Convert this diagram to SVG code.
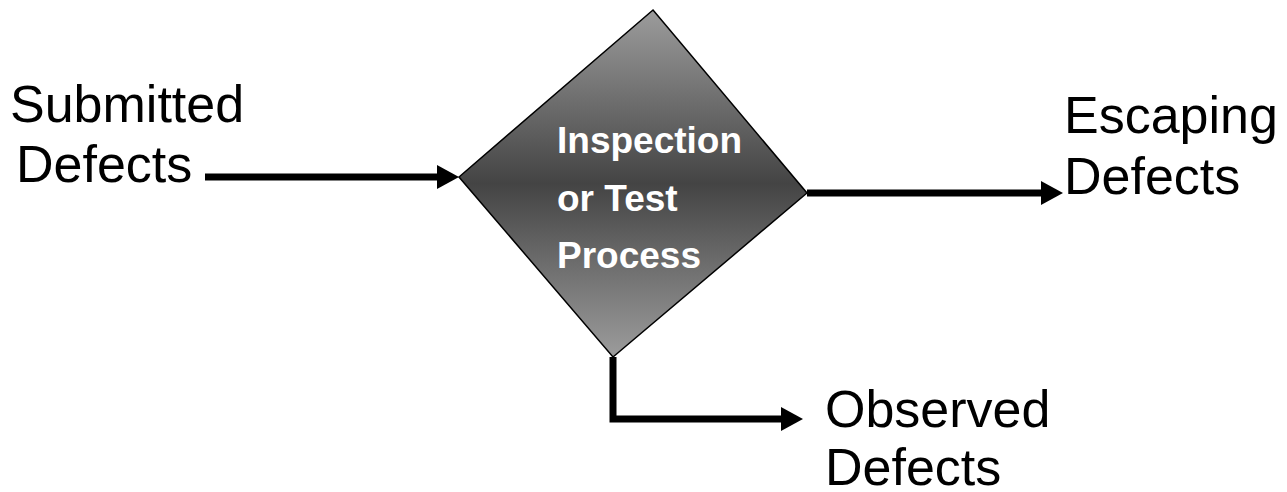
<svg xmlns="http://www.w3.org/2000/svg" width="1287" height="492" viewBox="0 0 1287 492">
  <style>
    .lbl { font-family: "Liberation Sans", Arial, sans-serif; font-size: 52px; fill: #000; }
    .inner { font-family: "Liberation Sans", Arial, sans-serif; font-size: 37px; font-weight: bold; fill: #fff; }
    .conn { fill: none; stroke: #000; stroke-width: 7; stroke-linejoin: miter; }
  </style>
  <defs>
    <linearGradient id="gr" gradientUnits="userSpaceOnUse" x1="0" y1="10" x2="0" y2="357">
      <stop offset="0" stop-color="#9c9c9c"/>
      <stop offset="0.5" stop-color="#444444"/>
      <stop offset="1" stop-color="#9c9c9c"/>
    </linearGradient>
    <marker id="ah" markerUnits="userSpaceOnUse" viewBox="0 0 22 24" markerWidth="22" markerHeight="24" refX="0" refY="12" orient="auto">
      <path d="M0,0 L22,12 L0,24 z" fill="#000"/>
    </marker>
  </defs>
  <rect width="1287" height="492" fill="#fff"/>
  <g id="connectors">
    <path class="conn" d="M205,177 H437" marker-end="url(#ah)"/>
    <path class="conn" d="M807,193 H1041" marker-end="url(#ah)"/>
    <path class="conn" d="M613,357 V419 H781" marker-end="url(#ah)"/>
  </g>
  <g id="process">
    <polygon points="653,10 807,193 613,357 459,177" fill="url(#gr)" stroke="#000" stroke-width="1.5"/>
    <text class="inner" x="557" y="153">Inspection</text>
    <text class="inner" x="557" y="211">or Test</text>
    <text class="inner" x="557" y="268">Process</text>
  </g>
  <g id="submitted">
    <text class="lbl" x="10" y="122">Submitted</text>
    <text class="lbl" x="16" y="182">Defects</text>
  </g>
  <g id="escaping">
    <text class="lbl" x="1064" y="133">Escaping</text>
    <text class="lbl" x="1064" y="194">Defects</text>
  </g>
  <g id="observed">
    <text class="lbl" x="825" y="427">Observed</text>
    <text class="lbl" x="825" y="485">Defects</text>
  </g>
</svg>
